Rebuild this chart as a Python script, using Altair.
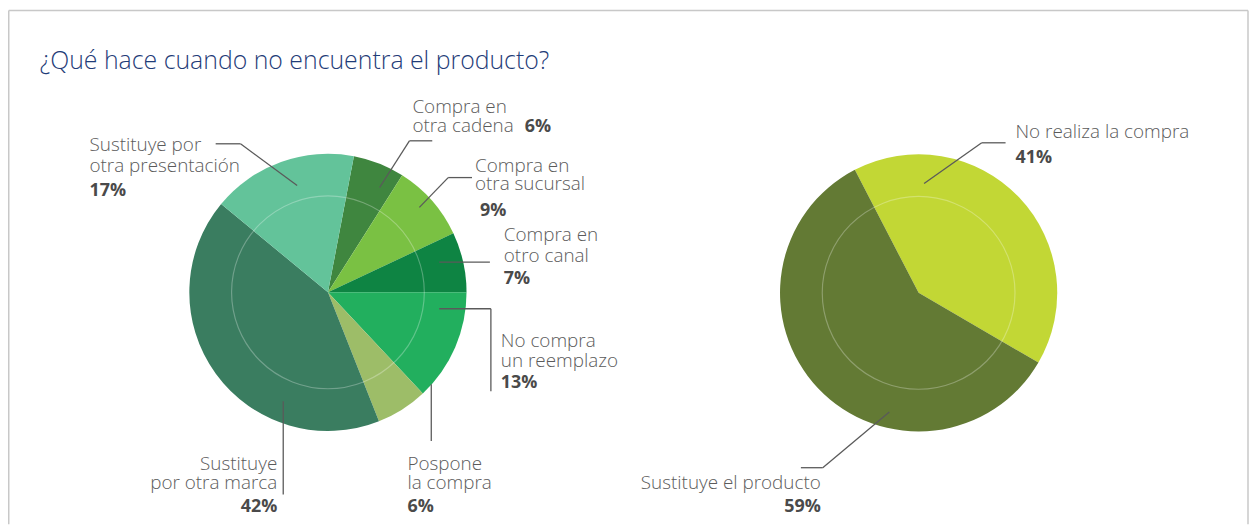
import math
import altair as alt
import pandas as pd

# ---------------- data ----------------
left_labels = ["Compra en otra cadena", "Compra en otra sucursal", "Compra en otro canal",
               "No compra un reemplazo", "Pospone la compra", "Sustituye por otra marca",
               "Sustituye por otra presentación"]
left_values = [6, 9, 7, 13, 6, 42, 17]
left_colors = ["#3F863F", "#7AC143", "#0E8443", "#22AF5E", "#9DBD68", "#3A7D60", "#63C39A"]

right_labels = ["No realiza la compra", "Sustituye el producto"]
right_values = [41, 59]
right_colors = ["#C2D735", "#637A34"]

title_text = "¿Qué hace cuando no encuentra el producto?"

# ---------------- layout (chart pixel coords = page - 8) ----------------
OFF = 8
W, H = 1249, 518
R = 139.5
R_IN = 97
LC = (330 - OFF, 292.5 - OFF)
RC = (924.5 - OFF, 293 - OFF)
left_start = math.radians(10.8)
right_start = math.radians(332.6)

FONT = "Open Sans"
LBL_COLOR = "#5b5b5b"
PCT_COLOR = "#4a4a4a"
LINE_COLOR = "#5a5a5a"
FS = 19

left_df = pd.DataFrame({"label": left_labels, "value": left_values,
                        "idx": list(range(len(left_labels)))})
right_df = pd.DataFrame({"label": right_labels, "value": right_values,
                         "idx": list(range(len(right_labels)))})


def pie(df, labels, colors, center, start):
    return alt.Chart(df).mark_arc(radius=R, stroke=None).encode(
        theta=alt.Theta("value:Q", stack=True,
                        scale=alt.Scale(range=[start, start + 2 * math.pi])),
        color=alt.Color("label:N", scale=alt.Scale(domain=labels, range=colors), legend=None),
        order=alt.Order("idx:Q"),
        x=alt.value(center[0]),
        y=alt.value(center[1]),
    )


def ring(center):
    return alt.Chart(pd.DataFrame({"a": [0]})).mark_point(
        shape="circle", size=(2 * R_IN) ** 2, filled=False,
        stroke="white", strokeOpacity=0.4, strokeWidth=1.2
    ).encode(x=alt.value(center[0]), y=alt.value(center[1]))


# leader line segments (page coords)
seg_x = [217, 242, 435, 412, 475, 451, 442, 442, 494, 434, 285, 1012, 988, 806, 828]
seg_y = [143, 143, 140, 140, 177, 177, 262, 309, 309, 385, 402, 142, 142, 469, 469]
seg_x2 = [242, 299, 412, 382, 451, 422, 493, 494, 494, 434, 285, 988, 930, 828, 895]
seg_y2 = [143, 185, 140, 187, 177, 207, 262, 309, 392, 442, 496, 142, 183, 469, 413]
seg_df = pd.DataFrame({"x": [v - OFF for v in seg_x], "y": [v - OFF for v in seg_y],
                       "x2": [v - OFF for v in seg_x2], "y2": [v - OFF for v in seg_y2]})

leaders = alt.Chart(seg_df).mark_rule(color=LINE_COLOR, strokeWidth=1.3).encode(
    x=alt.X("x:Q", scale=None), y=alt.Y("y:Q", scale=None),
    x2="x2:Q", y2="y2:Q")

# text
ln_text = ["Sustituye por", "otra presentación", "Compra en", "otra cadena",
           "Compra en", "otra sucursal", "Compra en", "otro canal",
           "No compra", "un reemplazo", "Pospone", "la compra", "No realiza la compra"]
ln_x = [90, 90, 415, 415, 478, 478, 507, 507, 504, 504, 410, 410, 1022]
ln_y = [150, 171, 112, 131, 171, 190, 241, 262, 348, 368, 471, 490, 137]

rn_text = ["Sustituye", "por otra marca", "Sustituye el producto"]
rn_x = [279, 279, 826]
rn_y = [471, 490, 490]

lb_text = ["17%", "6%", "9%", "7%", "13%", "6%", "41%"]
lb_x = [90, 528, 483, 507, 504, 410, 1022]
lb_y = [196, 131, 216, 284, 389, 514, 162]

rb_text = ["42%", "59%"]
rb_x = [279, 826]
rb_y = [514, 514]


def texts(t, xs, ys, align, weight, color, size):
    df = pd.DataFrame({"t": t, "x": [v - OFF for v in xs], "y": [v - OFF for v in ys]})
    return alt.Chart(df).mark_text(
        align=align, baseline="alphabetic", font=FONT, fontSize=size,
        fontWeight=weight, color=color
    ).encode(x=alt.X("x:Q", scale=None), y=alt.Y("y:Q", scale=None), text="t:N")


title = alt.Chart(pd.DataFrame({"t": [title_text]})).mark_text(
    align="left", baseline="alphabetic", font=FONT, fontSize=25, fontWeight=300,
    color="#1F3C78"
).encode(x=alt.value(40 - OFF), y=alt.value(68 - OFF), text="t:N")

border_df = pd.DataFrame({"x": [0.75, 0.75, W - 1], "y": [0.75, 0.75, 0.75],
                          "x2": [W - 1, 0.75, W - 1], "y2": [0.75, H, H]})
border = alt.Chart(border_df).mark_rule(color="#c8c8c8", strokeWidth=1.5).encode(
    x=alt.X("x:Q", scale=None), y=alt.Y("y:Q", scale=None), x2="x2:Q", y2="y2:Q")

chart = alt.layer(
    border,
    pie(left_df, left_labels, left_colors, LC, left_start),
    pie(right_df, right_labels, right_colors, RC, right_start),
    ring(LC), ring(RC),
    leaders,
    texts(ln_text, ln_x, ln_y, "left", 300, LBL_COLOR, FS),
    texts(rn_text, rn_x, rn_y, "right", 300, LBL_COLOR, FS),
    texts(lb_text, lb_x, lb_y, "left", "bold", PCT_COLOR, 18),
    texts(rb_text, rb_x, rb_y, "right", "bold", PCT_COLOR, 18),
    title,
).resolve_scale(theta="independent", color="independent").properties(
    width=W, height=H, autosize=alt.AutoSizeParams(type="none"), padding=0
).configure_view(stroke=None)

chart.save("out.html", embed_options={"renderer": "svg", "actions": False})
